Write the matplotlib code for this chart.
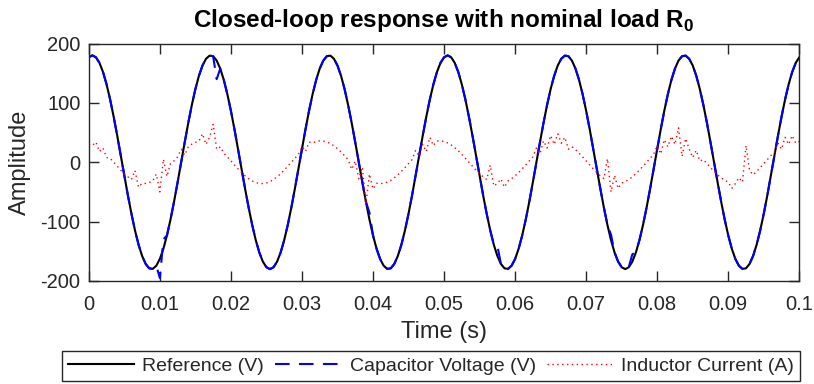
import matplotlib
matplotlib.use('Agg')
import matplotlib.pyplot as plt
import numpy as np

# ---------------- data ----------------
time_s = np.linspace(0.0, 0.1, 201)

reference_v = [
    176.8,
    180.0, 176.8, 167.4, 152.0, 131.2, 105.8, 76.6, 44.8, 11.3, -22.6,
    -55.6, -86.7, -114.7, -138.7, -157.7, -171.2, -178.6, -179.6, -174.3, -162.9,
    -145.6, -123.2, -96.4, -66.3, -33.7, 0.0, 33.7, 66.3, 96.4, 123.2,
    145.6, 162.9, 174.3, 179.6, 178.6, 171.2, 157.7, 138.7, 114.7, 86.7,
    55.6, 22.6, -11.3, -44.8, -76.6, -105.8, -131.2, -152.0, -167.4, -176.8,
    -180.0, -176.8, -167.4, -152.0, -131.2, -105.8, -76.6, -44.8, -11.3, 22.6,
    55.6, 86.7, 114.7, 138.7, 157.7, 171.2, 178.6, 179.6, 174.3, 162.9,
    145.6, 123.2, 96.4, 66.3, 33.7, 0.0, -33.7, -66.3, -96.4, -123.2,
    -145.6, -162.9, -174.3, -179.6, -178.6, -171.2, -157.7, -138.7, -114.7, -86.7,
    -55.6, -22.6, 11.3, 44.8, 76.6, 105.8, 131.2, 152.0, 167.4, 176.8,
    180.0, 176.8, 167.4, 152.0, 131.2, 105.8, 76.6, 44.8, 11.3, -22.6,
    -55.6, -86.7, -114.7, -138.7, -157.7, -171.2, -178.6, -179.6, -174.3, -162.9,
    -145.6, -123.2, -96.4, -66.3, -33.7, 0.0, 33.7, 66.3, 96.4, 123.2,
    145.6, 162.9, 174.3, 179.6, 178.6, 171.2, 157.7, 138.7, 114.7, 86.7,
    55.6, 22.6, -11.3, -44.8, -76.6, -105.8, -131.2, -152.0, -167.4, -176.8,
    -180.0, -176.8, -167.4, -152.0, -131.2, -105.8, -76.6, -44.8, -11.3, 22.6,
    55.6, 86.7, 114.7, 138.7, 157.7, 171.2, 178.6, 179.6, 174.3, 162.9,
    145.6, 123.2, 96.4, 66.3, 33.7, 0.0, -33.7, -66.3, -96.4, -123.2,
    -145.6, -162.9, -174.3, -179.6, -178.6, -171.2, -157.7, -138.7, -114.7, -86.7,
    -55.6, -22.6, 11.3, 44.8, 76.6, 105.8, 131.2, 152.0, 167.4, 176.8,
]

capacitor_v = [
    176.8,
    180.0, 176.8, 167.4, 152.0, 131.2, 105.8, 76.6, 44.8, 11.3, -22.6,
    -55.6, -86.7, -114.7, -138.7, -157.7, -171.2, -178.6, -179.6, -174.3, -195.0,
    -130.0, -123.2, -96.4, -66.3, -33.7, 0.0, 33.7, 66.3, 96.4, 123.2,
    145.6, 162.9, 174.3, 179.6, 178.6, 140.0, 157.7, 138.7, 114.7, 86.7,
    55.6, 22.6, -11.3, -44.8, -76.6, -105.8, -131.2, -152.0, -167.4, -176.8,
    -180.0, -176.8, -167.4, -152.0, -131.2, -105.8, -76.6, -44.8, -11.3, 22.6,
    55.6, 86.7, 114.7, 138.7, 157.7, 171.2, 178.6, 179.6, 174.3, 162.9,
    145.6, 123.2, 96.4, 66.3, 33.7, 0.0, -33.7, -66.3, -85.0, -123.2,
    -145.6, -162.9, -174.3, -179.6, -178.6, -171.2, -157.7, -138.7, -114.7, -86.7,
    -55.6, -22.6, 11.3, 44.8, 76.6, 105.8, 131.2, 152.0, 167.4, 176.8,
    180.0, 176.8, 167.4, 152.0, 131.2, 105.8, 76.6, 44.8, 11.3, -22.6,
    -55.6, -86.7, -114.7, -138.7, -140.0, -171.2, -178.6, -179.6, -174.3, -162.9,
    -145.6, -123.2, -96.4, -66.3, -33.7, 0.0, 33.7, 66.3, 96.4, 123.2,
    145.6, 162.9, 174.3, 179.6, 178.6, 171.2, 157.7, 138.7, 114.7, 86.7,
    55.6, 22.6, -11.3, -44.8, -76.6, -105.8, -122.0, -152.0, -167.4, -176.8,
    -180.0, -176.8, -155.0, -152.0, -131.2, -105.8, -76.6, -44.8, -11.3, 22.6,
    55.6, 86.7, 114.7, 138.7, 157.7, 171.2, 178.6, 179.6, 174.3, 162.9,
    145.6, 123.2, 96.4, 66.3, 33.7, 0.0, -33.7, -66.3, -96.4, -123.2,
    -145.6, -162.9, -174.3, -179.6, -178.6, -171.2, -157.7, -138.7, -114.7, -86.7,
    -55.6, -22.6, 11.3, 44.8, 76.6, 105.8, 131.2, 152.0, 167.4, 176.8,
]

inductor_a = [
    30.0, 28.0, 34.0, 18.0, 24.0, 8.0, 6.7, 0.0, -6.7, -13.3,
    -19.3, -24.6, -29.1, -14.0, -42.0, -35.9, -35.7, -34.2, -31.5, -20.0,
    -50.0, 5.0, -24.0, -2.0, 2.3, 9.0, 22.0, 12.0, 26.2, 30.4,
    33.5, 35.4, 48.0, 30.0, 42.0, 64.0, 22.0, 26.0, 15.3, 9.0,
    2.3, -4.5, -11.1, -17.3, -22.9, -27.7, -31.5, -34.2, -35.7, -35.9,
    -34.9, -32.6, -29.1, -24.6, -19.3, -13.3, -6.7, 0.0, 6.7, 13.3,
    26.0, 18.0, 34.0, 32.6, 34.9, 35.9, 35.7, 34.2, 31.5, 27.7,
    22.9, 17.3, 11.1, 4.5, -12.0, 2.0, -28.0, -8.0, -70.0, -20.0,
    -45.0, -35.4, -36.0, -35.4, -33.5, -30.4, -26.2, -21.2, -15.3, -9.0,
    -2.3, 4.5, 20.0, 10.0, 30.0, 18.0, 42.0, 28.0, 35.7, 35.9,
    34.9, 32.6, 29.1, 24.6, 19.3, 13.3, 6.7, 0.0, -6.7, -13.3,
    -19.3, -24.6, -29.1, -5.0, -40.0, -35.9, -28.0, -42.0, -31.5, -27.7,
    -22.9, -17.3, -11.1, -4.5, 2.3, 9.0, 24.0, 14.0, 36.0, 24.0,
    45.0, 30.0, 48.0, 32.0, 42.0, 22.0, 26.2, 21.2, 15.3, 9.0,
    2.3, -4.5, -11.1, -17.3, -22.9, -27.7, 6.0, -50.0, -22.0, -44.0,
    -34.9, -32.6, -29.1, -24.6, -19.3, -13.3, -6.7, 0.0, 6.7, 13.3,
    28.0, 14.0, 38.0, 26.0, 44.0, 30.0, 58.0, 10.0, 40.0, 22.0,
    8.0, 20.0, 2.0, 4.5, -2.3, -9.0, -15.3, -21.2, -26.2, -30.4,
    -33.5, -44.0, -36.0, -26.0, -33.5, 28.0, -14.0, -21.2, -15.3, -9.0,
    -2.3, 4.5, 11.1, 17.3, 32.0, 22.0, 42.0, 30.0, 45.0, 32.0,
    34.9,
]

series_labels = ['Reference (V)', 'Capacitor Voltage (V)', 'Inductor Current (A)']
x_ticks = [0.0, 0.01, 0.02, 0.03, 0.04, 0.05, 0.06, 0.07, 0.08, 0.09, 0.1]
x_tick_labels = ['0', '0.01', '0.02', '0.03', '0.04', '0.05', '0.06', '0.07', '0.08', '0.09', '0.1']
y_ticks = [-200, -100, 0, 100, 200]
y_tick_labels = ['-200', '-100', '0', '100', '200']
title_text = 'Closed-loop response with nominal load R$_\\mathbf{0}$'
x_label = 'Time (s)'
y_label = 'Amplitude'

# ---------------- style ----------------
plt.rcParams['font.family'] = ['Liberation Sans', 'DejaVu Sans']
plt.rcParams['mathtext.fontset'] = 'custom'
plt.rcParams['mathtext.rm'] = 'Liberation Sans'
plt.rcParams['mathtext.bf'] = 'Liberation Sans:bold'
plt.rcParams['axes.unicode_minus'] = False

ink = '#262626'
W, H = 814, 384
fig = plt.figure(figsize=(W / 100, H / 100), dpi=100)
left, right, top, bottom = 88.8, 799.3, 43.5, 281.0
ax = fig.add_axes([left / W, 1 - bottom / H, (right - left) / W, (bottom - top) / H])

ax.plot(time_s, reference_v, color='black', lw=1.5, label=series_labels[0])
ax.plot(time_s, capacitor_v, color=(0, 0, 1), lw=1.5, dashes=(7, 4.5), label=series_labels[1])
ax.plot(time_s, inductor_a, color=(1, 0, 0), lw=1.0, dashes=(1, 2.5), label=series_labels[2])

ax.set_xlim(0, 0.1)
ax.set_ylim(-200, 200)
ax.set_xticks(x_ticks)
ax.set_xticklabels(x_tick_labels)
ax.set_yticks(y_ticks)
ax.set_yticklabels(y_tick_labels)
ax.tick_params(direction='in', top=True, right=True, length=7, width=1.0,
               labelsize=14.5, colors=ink, pad=6)
ax.tick_params(axis='x', pad=10)
for s in ax.spines.values():
    s.set_color(ink)
    s.set_linewidth(1.0)

ax.set_title(title_text, fontsize=17.5, fontweight='bold', color='black', pad=12)
ax.set_xlabel(x_label, fontsize=17, color=ink, labelpad=5)
ax.set_ylabel(y_label, fontsize=17, color=ink, labelpad=7)

leg = ax.legend(loc='center', bbox_to_anchor=(431 / W, 1 - 366 / H),
                bbox_transform=fig.transFigure, ncol=3, fontsize=14,
                frameon=True, fancybox=False, edgecolor=ink, framealpha=1,
                handlelength=3.4, handletextpad=0.45, columnspacing=0.55,
                borderpad=0.3, borderaxespad=0)
leg.get_frame().set_linewidth(1.0)
for txt in leg.get_texts():
    txt.set_color(ink)

fig.savefig('out.png', dpi=100)
